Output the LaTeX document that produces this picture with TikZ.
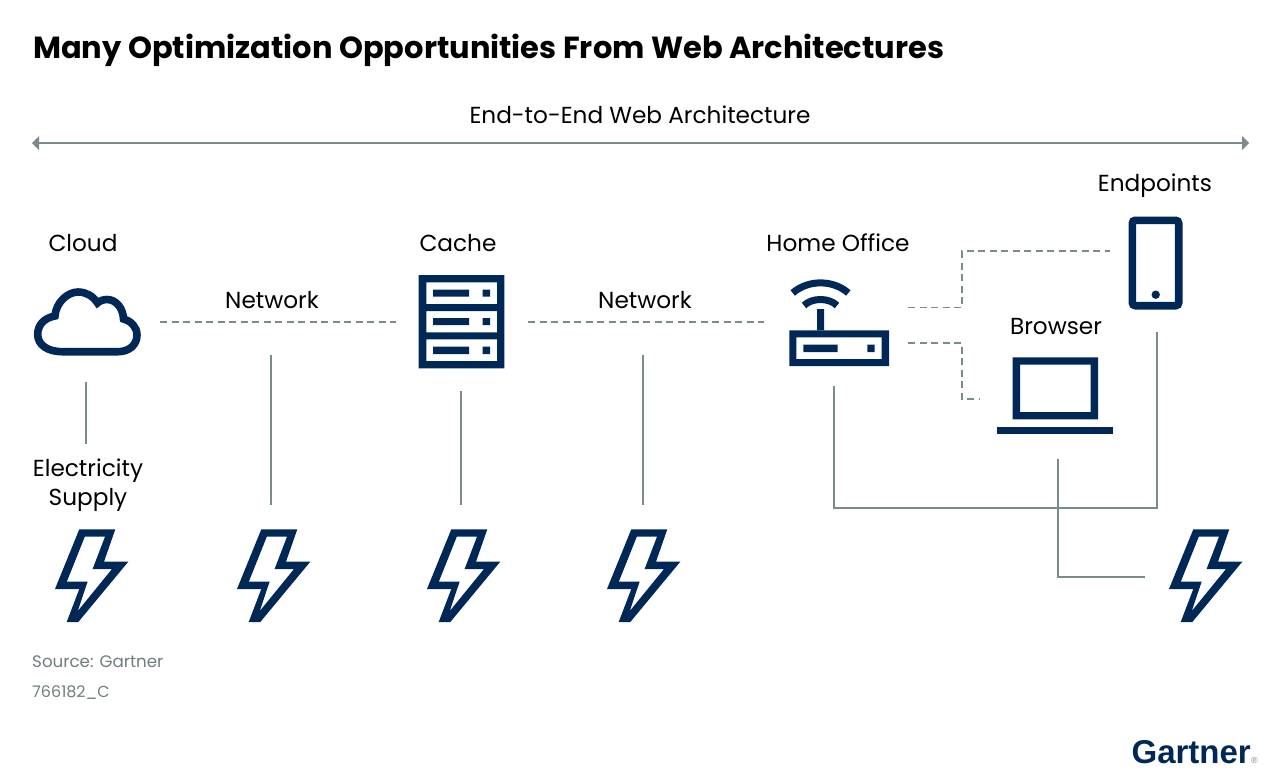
\documentclass[tikz,border=0pt]{standalone}
\usepackage{fontspec}
\setmainfont{Poppins}
\newfontfamily\logofont{Liberation Sans}
\definecolor{navy}{HTML}{002856}
\definecolor{linegrey}{HTML}{7B8A8A}
\definecolor{srcgrey}{HTML}{6F7E7E}
\tikzset{
  label text/.style={anchor=base,inner sep=0pt,font=\fontsize{23.2bp}{28bp}\selectfont,text=black},
  solidline/.style={draw=linegrey,line width=1.6bp},
  dashline/.style={draw=linegrey,line width=1.5bp,dash pattern=on 7bp off 4.5bp},
  icon/.style={fill=navy,draw=none,even odd rule},
  strokeicon/.style={draw=navy,line width=7.6bp,fill=none},
  pics/bolt/.style={code={
    \fill[icon] (79.3,529.3)--(115.3,529.3)--(104,561.7)--(128.3,561.7)--(78.3,622)--(66.7,622)--(79.3,589)--(55,589)--cycle
      (84.8,536.7)--(105,536.7)--(92.6,569)--(112,569)--(77.8,611)--(87.6,581.7)--(66.8,581.7)--cycle;
  }}
}
\begin{document}
\begin{tikzpicture}[x=1bp,y=-1bp]
\useasboundingbox (0,0) rectangle (1280,777);
\fill[white] (0,0) rectangle (1280,777);
% texts
\node[anchor=base west,inner sep=0pt,font=\fontsize{30.5bp}{34bp}\selectfont\bfseries] (title) at (33,58.5) {Many Optimization Opportunities From Web Architectures};
\node[label text] (span) at (640,124) {End-to-End Web Architecture};
\node[label text] (endpoints) at (1155,191) {Endpoints};
\node[label text] (cloudl) at (83,251) {Cloud};
\node[label text] (cachel) at (458,251) {Cache};
\node[label text] (homel) at (838,251) {Home Office};
\node[label text] (net1) at (272,308) {Network};
\node[label text] (net2) at (645,308) {Network};
\node[label text] (browserl) at (1056,334) {Browser};
\node[label text] (elec1) at (88,476) {Electricity};
\node[label text] (elec2) at (88,505) {Supply};
\node[anchor=base west,inner sep=0pt,text=srcgrey,font=\fontsize{16.7bp}{20bp}\selectfont] (src) at (32,667) {Source: Gartner};
\node[anchor=base west,inner sep=0pt,text=srcgrey,font=\fontsize{16bp}{20bp}\selectfont] (code) at (32,697) {766182\_C};
\node[anchor=base east,inner sep=0pt,text=navy,font=\fontsize{33bp}{36bp}\selectfont\logofont\bfseries] (logo) at (1251,763) {Gartner};
\node[anchor=base west,inner sep=0pt,text=linegrey,font=\fontsize{9bp}{9bp}\selectfont\logofont] (reg) at (logo.base east) {®};
% span arrow
\coordinate (spanL) at (32,143);
\coordinate (spanR) at (1249,143);
\draw[draw=linegrey,line width=2.2bp] ([xshift=6bp]spanL) -- ([xshift=-6bp]spanR);
\fill[linegrey] (spanL) -- ++(7,-7) -- ++(0,14) -- cycle;
\fill[linegrey] (spanR) -- ++(-7,-7) -- ++(0,14) -- cycle;
% connector ends
\coordinate (d1a) at (160,322); \coordinate (d1b) at (396,322);
\coordinate (d2a) at (528,322); \coordinate (d2b) at (764,322);
\coordinate (d3a) at (908,307.5); \coordinate (d3b) at (1110,251);
\coordinate (d4a) at (908,343); \coordinate (d4b) at (980,399);
\coordinate (s1a) at (86,382); \coordinate (s1b) at (86,444);
\coordinate (s2a) at (271,355); \coordinate (s2b) at (271,505);
\coordinate (s3a) at (461,391); \coordinate (s3b) at (461,505);
\coordinate (s4a) at (643,355); \coordinate (s4b) at (643,505);
\coordinate (s5a) at (834,386); \coordinate (s5b) at (1157,332);
\coordinate (s6a) at (1058,459); \coordinate (s6b) at (1145,577);
\coordinate (jx) at (962,0);
\draw[dashline] (d1a) -- (d1b);
\draw[dashline] (d2a) -- (d2b);
\draw[dashline] (d3a) -- (d3a -| jx) -- (d3b -| jx) -- (d3b);
\draw[dashline] (d4a) -- (d4a -| jx) -- (d4b -| jx) -- (d4b);
\draw[solidline] (s1a) -- (s1b);
\draw[solidline] (s2a) -- (s2b);
\draw[solidline] (s3a) -- (s3b);
\draw[solidline] (s4a) -- (s4b);
\coordinate (jy) at (0,508);
\draw[solidline] (s5a) -- (s5a |- jy) -- (s5b |- jy) -- (s5b);
\draw[solidline] (s6a) -- (s6a |- s6b) -- (s6b);
% cloud
\draw[strokeicon,line join=miter] (62,351.7) .. controls (48,351.7) and (37.7,345) .. (37.7,334.5)
  .. controls (37.7,325) and (44,318) .. (55,316)
  .. controls (56,302) and (68,292) .. (78,292)
  .. controls (86,292) and (93,296) .. (97.5,303)
  .. controls (100,300.5) and (104,299.5) .. (107,299.5)
  .. controls (116,299.5) and (123,308) .. (123.5,319)
  .. controls (131,321) and (137,327) .. (137,335)
  .. controls (137,345) and (129,351.7) .. (118,351.7) -- cycle;
% server
\fill[icon] (418.7,275) rectangle (504.3,368.3)
  (426.3,282.3) rectangle (497,304)
  (426.3,311) rectangle (497,332.3)
  (426.3,339.3) rectangle (497,361);
\fill[navy] (433,289.7) rectangle (469,296.7) (482.7,289.7) rectangle (490,296.7)
  (433,318) rectangle (469,325) (482.7,318) rectangle (490,325)
  (433,346.7) rectangle (469,354) (482.7,346.7) rectangle (490,354);
% router
\fill[icon] (789.3,330.3) rectangle (889,366) (796.3,337.3) rectangle (881.7,359);
\fill[navy] (803.3,344.7) rectangle (837.7,352) (867.3,344.7) rectangle (874.7,352) (817,309) rectangle (824,330.3);
\draw[navy,line width=7bp] (792.7,293) .. controls (808,279.5) and (833,279.5) .. (848.3,293);
\draw[navy,line width=7bp] (804,305.5) .. controls (812,297.5) and (829,297.5) .. (837,305.5);
% phone
\draw[strokeicon,rounded corners=3bp] (1132.3,220.3) rectangle (1178.7,305.7);
\fill[navy] (1155.7,294.7) circle[radius=4.2];
% laptop
\fill[icon] (1012.7,357.3) rectangle (1098,419.3) (1020,364.5) rectangle (1090.7,412);
\fill[navy] (997.3,427.3) rectangle (1113.3,434.3);
% bolts
\pic at (0,0) {bolt};
\pic at (182,0) {bolt};
\pic at (372,0) {bolt};
\pic at (552,0) {bolt};
\pic at (1114,0) {bolt};
\end{tikzpicture}
\end{document}
